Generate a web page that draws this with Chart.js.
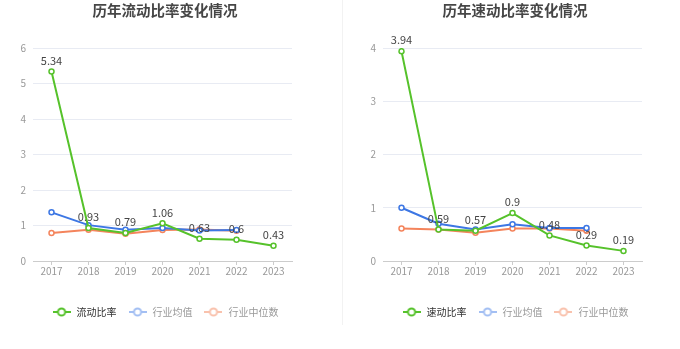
<!DOCTYPE html>
<html>
<head>
<meta charset="utf-8">
<script src="https://cdn.jsdelivr.net/npm/chart.js@4"></script>
<style>
  body { margin: 0; background: #fff; }
  .wrap { position: relative; width: 680px; height: 349px; }
  .box { position: absolute; top: 0; width: 330px; height: 349px; }
  #leftBox { left: 0; }
  #rightBox { left: 350px; }
  .divider { position: absolute; left: 342px; top: 0; width: 1px; height: 325px; background: #f2f2f2; }
</style>
</head>
<body>
<div class="wrap">
  <div class="box" id="leftBox"><canvas id="currentChart"></canvas></div>
  <div class="divider"></div>
  <div class="box" id="rightBox"><canvas id="quickChart"></canvas></div>
</div>
<script>
const years = ["2017", "2018", "2019", "2020", "2021", "2022", "2023"];

// 流动比率
const currentRatio = [5.34, 0.93, 0.79, 1.06, 0.63, 0.6, 0.43];
const currentAvg = [1.37, 1.01, 0.88, 0.93, 0.86, 0.87, null];
const currentMedian = [0.79, 0.88, 0.77, 0.87, 0.89, 0.85, null];

// 速动比率
const quickRatio = [3.94, 0.59, 0.57, 0.9, 0.48, 0.29, 0.19];
const quickAvg = [1.0, 0.7, 0.59, 0.69, 0.62, 0.62, null];
const quickMedian = [0.61, 0.59, 0.53, 0.61, 0.61, 0.57, null];

const FONT = '"Noto Sans CJK SC", "Noto Sans", sans-serif';
const GREEN = "#56c22b";
const BLUE = "#3d77e4";
const ORANGE = "#f4845c";

// legend icon: short line with a hollow circle
function legendIcon(color) {
  const c = document.createElement("canvas");
  c.width = 18;
  c.height = 10;
  const g = c.getContext("2d");
  g.strokeStyle = color;
  g.lineWidth = 2;
  g.beginPath();
  g.moveTo(0, 5);
  g.lineTo(18, 5);
  g.stroke();
  g.fillStyle = "#fff";
  g.beginPath();
  g.arc(9, 5, 3.6, 0, Math.PI * 2);
  g.fill();
  g.stroke();
  return c;
}

const valueLabels = {
  id: "valueLabels",
  afterDatasetsDraw(chart) {
    const ctx = chart.ctx;
    const meta = chart.getDatasetMeta(0);
    const data = chart.data.datasets[0].data;
    ctx.save();
    ctx.font = "11px " + FONT;
    ctx.fillStyle = "#444";
    ctx.textAlign = "center";
    ctx.textBaseline = "middle";
    meta.data.forEach((pt, i) => {
      if (data[i] == null) return;
      ctx.fillText(String(data[i]), pt.x, pt.y - 11);
    });
    ctx.restore();
  },
};

function makeChart(id, title, mainName, mainData, avgData, medData, yMax) {
  const icons = [legendIcon(GREEN), legendIcon("#a3bff3"), legendIcon("#f9c2ad")];
  const textColors = ["#333", "#999", "#999"];

  const line = (label, data, color) => ({
    label: label,
    data: data,
    borderColor: color,
    backgroundColor: "#fff",
    borderWidth: 2,
    pointRadius: 2.5,
    pointBorderWidth: 1.5,
    pointBackgroundColor: "#fff",
    pointBorderColor: color,
    tension: 0,
  });

  return new Chart(document.getElementById(id), {
    type: "line",
    data: {
      labels: years,
      datasets: [
        line(mainName, mainData, GREEN),
        line("行业均值", avgData, BLUE),
        line("行业中位数", medData, ORANGE),
      ],
    },
    options: {
      responsive: false,
      animation: false,
      layout: { padding: { left: 0, right: 0, top: 0, bottom: 22 } },
      plugins: {
        title: {
          display: true,
          text: title,
          color: "#464646",
          font: { family: FONT, size: 14.5, weight: "bold" },
          padding: { top: 2, bottom: 28.6 },
        },
        legend: {
          position: "bottom",
          labels: {
            usePointStyle: true,
            pointStyleWidth: 20,
            padding: 11,
            font: { family: FONT, size: 10 },
            generateLabels: function (chart) {
              return chart.data.datasets.map((ds, i) => ({
                text: ds.label,
                pointStyle: icons[i],
                fontColor: textColors[i],
                datasetIndex: i,
                hidden: !chart.isDatasetVisible(i),
              }));
            },
          },
        },
        tooltip: { enabled: false },
      },
      scales: {
        x: {
          offset: true,
          grid: {
            offset: false,
            drawOnChartArea: false,
            drawTicks: true,
            tickLength: 4,
            color: "#ccc",
          },
          border: { color: "#ccc", width: 1 },
          ticks: { color: "#999", padding: 0, font: { family: FONT, size: 10 } },
          afterFit: function (scale) {
            scale.height = 35;
          },
        },
        y: {
          min: 0,
          max: yMax,
          grid: {
            drawTicks: false,
            color: (c) => (c.tick.value === 0 ? "rgba(0,0,0,0)" : "#e8ebf3"),
          },
          border: { display: false },
          ticks: {
            stepSize: 1,
            color: "#999",
            padding: 7,
            font: { family: FONT, size: 10 },
          },
          afterFit: function (scale) {
            scale.width = 33;
          },
        },
        // empty right-hand margin so title and legend centre on the whole panel
        yPad: {
          position: "right",
          min: 0,
          max: yMax,
          grid: { display: false },
          border: { display: false },
          ticks: { display: false },
          afterFit: function (scale) {
            scale.width = 38;
          },
        },
      },
    },
    plugins: [valueLabels],
  });
}

function sizeCanvas(id) {
  const c = document.getElementById(id);
  c.width = 330;
  c.height = 349;
  c.style.width = "330px";
  c.style.height = "349px";
}
sizeCanvas("currentChart");
sizeCanvas("quickChart");

makeChart("currentChart", "历年流动比率变化情况", "流动比率", currentRatio, currentAvg, currentMedian, 6);
makeChart("quickChart", "历年速动比率变化情况", "速动比率", quickRatio, quickAvg, quickMedian, 4);
</script>
</body>
</html>
